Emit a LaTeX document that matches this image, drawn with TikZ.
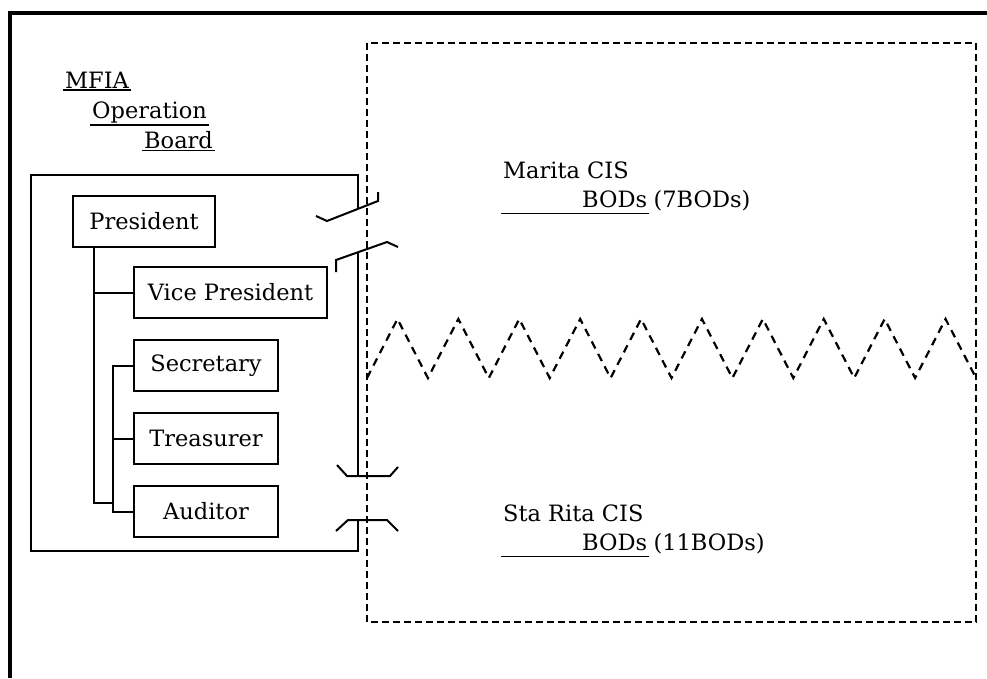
\documentclass[tikz,border=0pt]{standalone}
\usepackage{fontspec}
\setmainfont{DejaVu Serif}
\usetikzlibrary{positioning}
\tikzstyle{office} = [rectangle, draw, line width=2pt, minimum width=144pt, minimum height=51pt, text centered, inner sep=2pt]
\tikzstyle{caption} = [inner sep=2pt, anchor=base west]
\tikzstyle{link} = [line width=2pt]
\tikzstyle{cut} = [line width=2pt, line join=miter]
\tikzstyle{uline} = [line width=1.8pt]
\tikzstyle{boundary} = [line width=2.2pt, dash pattern=on 7pt off 4pt]
\tikzstyle{frontier} = [line width=2.2pt, dash pattern=on 8pt off 6pt]

\begin{document}
\begin{tikzpicture}[x=1pt, y=-1pt, font={\fontsize{22.5}{27}\selectfont}, node distance=20pt]
  \useasboundingbox (0,0) rectangle (987,678);
  % outer frame
  \draw [line width=3.5pt] (10,678) -- (10,13) -- (987,13);
  % board captions
  \node (mfia) [caption] at (63,88) {MFIA};
  \node (operation) [caption] at (90,118) {Operation};
  \node (board) [caption] at (142,148) {Board};
  \draw [uline] (mfia.south west) -- (mfia.south east);
  \draw [uline] (operation.south west) -- (operation.south east);
  \draw [uline] (board.south west) -- (board.south east);
  % board frame with breaks
  \draw [link] (357.5,209.2) -- (357.5,175) -- (31,175) -- (31,551) -- (357.5,551) -- (357.5,520);
  \draw [link] (357.5,252.6) -- (357.5,476);
  \draw [cut] (316,216) -- (327,221) -- (378,201) -- (378,192);
  \draw [cut] (336,272) -- (336,260) -- (387,242) -- (398,247);
  \draw [cut] (337,465) -- (347,476) -- (390,476) -- (398,467);
  \draw [cut] (336,531) -- (348,520) -- (387,520) -- (398,531);
  % offices
  \node (president) [office, minimum width=142pt, anchor=north west] at (72,195) {President};
  \node (vice) [office, minimum width=193pt, anchor=north west] at (133,266) {Vice President};
  \node (secretary) [office, below=of vice.south west, anchor=north west] {Secretary};
  \node (treasurer) [office, below=of secretary.south west, anchor=north west] {Treasurer};
  \node (auditor) [office, below=of treasurer.south west, anchor=north west] {Auditor};
  \coordinate (pstem) at ([xshift=22pt]president.south west);
  \coordinate (bustop) at ([xshift=-20pt]secretary.west);
  \coordinate (busbot) at ([xshift=-20pt]auditor.west);
  \draw [link] (pstem) |- ([yshift=9pt]busbot);
  \draw [link] (pstem |- vice.west) -- (vice.west);
  \draw [link] (secretary.west) -- (bustop) -- (busbot) -- (auditor.west);
  \draw [link] ([xshift=-20pt]treasurer.west) -- (treasurer.west);
  % CIS area
  \draw [boundary] (367,43) rectangle (976,622);
  \draw [frontier] (367,378) \foreach \i in {1,...,10} { -- ++(30.45,-59) -- ++(30.45,59) };
  \node (marita) [caption] at (501,178) {Marita CIS};
  \node (maritabods) [caption] at (580,207) {BODs};
  \node (maritanum) [caption, right=2pt of maritabods.base east, anchor=base west] {(7BODs)};
  \draw [uline] ([yshift=-4pt]maritabods.south east) -- ([yshift=-4pt]maritabods.south east -| marita.west);
  \node (starita) [caption] at (501,521) {Sta Rita CIS};
  \node (staritabods) [caption] at (580,550) {BODs};
  \node (staritanum) [caption, right=2pt of staritabods.base east, anchor=base west] {(11BODs)};
  \draw [uline] ([yshift=-4pt]staritabods.south east) -- ([yshift=-4pt]staritabods.south east -| starita.west);
\end{tikzpicture}
\end{document}
